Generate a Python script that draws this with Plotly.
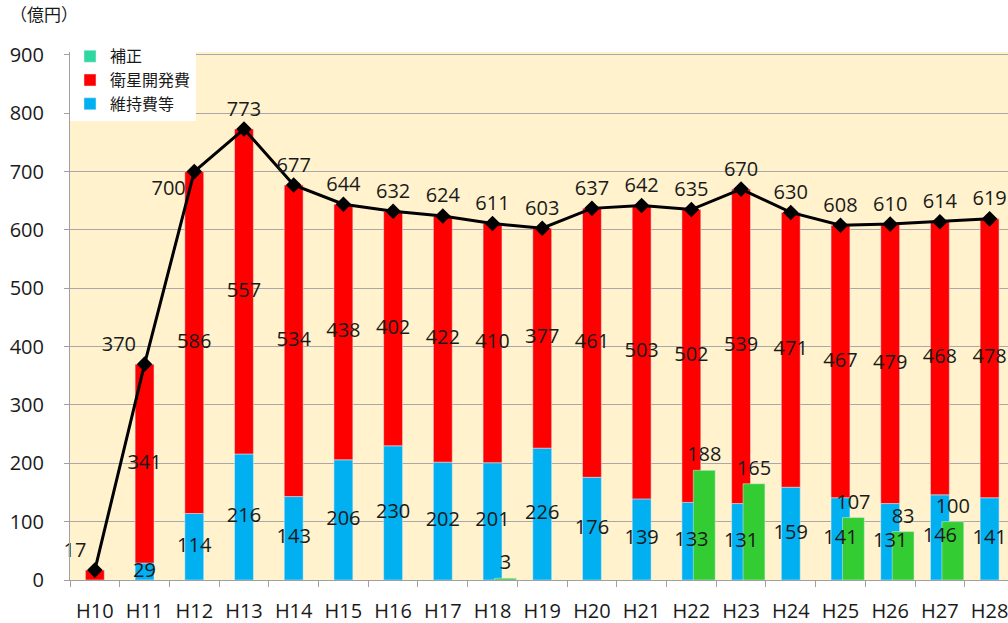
import plotly.graph_objects as go

years = ["H10", "H11", "H12", "H13", "H14", "H15", "H16", "H17", "H18", "H19",
         "H20", "H21", "H22", "H23", "H24", "H25", "H26", "H27", "H28"]
maintenance = [0, 29, 114, 216, 143, 206, 230, 202, 201, 226,
               176, 139, 133, 131, 159, 141, 131, 146, 141]
development = [17, 341, 586, 557, 534, 438, 402, 422, 410, 377,
               461, 503, 502, 539, 471, 467, 479, 468, 478]
correction = [None, None, None, None, None, None, None, None, 3, None,
              None, None, 188, 165, None, 107, 83, 100, None]
totals = [17, 370, 700, 773, 677, 644, 632, 624, 611, 603,
          637, 642, 635, 670, 630, 608, 610, 614, 619]

FONT = "Open Sans, Noto Sans CJK JP"
BLUE = "#00B0F0"
RED = "#FF0000"
GREEN = "#33CC33"
MINT = "#2ED8A0"
TXT = "#1a1a1a"
LABEL_FONT = dict(color=TXT, size=20, family=FONT)

fig = go.Figure()

# maintenance (blue)
fig.add_trace(go.Bar(
    x=years, y=maintenance, name="維持費等", marker_color=BLUE,
    width=0.38, offset=-0.19, legendrank=3,
))
# development (red), stacked on maintenance
fig.add_trace(go.Bar(
    x=years, y=development, base=maintenance, name="衛星開発費", marker_color=RED,
    width=0.38, offset=-0.19, legendrank=2,
))
# correction (green), offset to the right
fig.add_trace(go.Bar(
    x=years, y=correction, name="補正", marker_color=GREEN,
    width=0.44, offset=0.04, showlegend=False,
    text=[str(v) if v is not None else "" for v in correction],
    textposition="outside", textangle=0, constraintext="none",
    cliponaxis=False, textfont=LABEL_FONT,
))
# legend entry for correction
fig.add_trace(go.Bar(
    x=[years[0]], y=[None], name="補正", marker_color=MINT, legendrank=1,
))

# total line
positions = ["top left", "top left", "bottom left"] + ["top center"] * 16
fig.add_trace(go.Scatter(
    x=years, y=totals, mode="lines+markers+text", showlegend=False,
    line=dict(color="black", width=3),
    marker=dict(symbol="diamond", size=12, color="black"),
    text=[str(v) for v in totals], textposition=positions,
    textfont=LABEL_FONT, cliponaxis=False,
))

# segment labels (centred in each segment, drawn above all bars)
fig.add_trace(go.Scatter(
    x=years, y=[m / 2 for m in maintenance], mode="text", showlegend=False,
    text=[str(v) if v else "" for v in maintenance], textposition="middle center",
    textfont=LABEL_FONT, cliponaxis=False, hoverinfo="skip",
))
fig.add_trace(go.Scatter(
    x=years, y=[m + d / 2 for m, d in zip(maintenance, development)],
    mode="text", showlegend=False,
    text=["" if i == 0 else str(v) for i, v in enumerate(development)],
    textposition="middle center", textfont=LABEL_FONT, cliponaxis=False,
    hoverinfo="skip",
))

fig.update_layout(
    width=1008, height=623,
    margin=dict(l=70, r=0, t=52, b=43),
    paper_bgcolor="white", plot_bgcolor="#FFF2CC",
    barmode="overlay",
    font=dict(family=FONT, color=TXT),
    legend=dict(
        x=0.0, y=1.024, xanchor="left", yanchor="top",
        bgcolor="white", font=dict(size=16, family=FONT, color=TXT),
        tracegroupgap=0, itemwidth=30,
    ),
    xaxis=dict(
        type="category", range=[-0.5, 18.37], automargin=False,
        showline=True, linecolor="#A0A0A0", linewidth=1,
        ticks="outside", tickson="boundaries", ticklen=6, tickcolor="#A0A0A0",
        tickfont=dict(size=20, family=FONT, color=TXT),
        ticklabelstandoff=13, showgrid=False,
    ),
    yaxis=dict(
        range=[0, 905], tickvals=list(range(0, 901, 100)), automargin=False,
        showline=True, linecolor="#A0A0A0", linewidth=1,
        ticks="outside", ticklen=5, tickcolor="#A0A0A0",
        gridcolor="#A8A8A8", gridwidth=1, zeroline=False,
        tickfont=dict(size=20, family=FONT, color=TXT),
        ticklabelstandoff=16,
    ),
    annotations=[dict(
        text="（億円）", xref="paper", yref="paper", x=-0.066, y=1.045,
        xanchor="left", yanchor="bottom", showarrow=False,
        font=dict(size=17, family=FONT, color=TXT),
    )],
)

fig.write_html(
    "out.html",
    config={"displayModeBar": False},
    post_script="document.body.style.margin='0';"
                "document.body.style.overflow='hidden';"
                "document.documentElement.style.overflow='hidden';",
)
